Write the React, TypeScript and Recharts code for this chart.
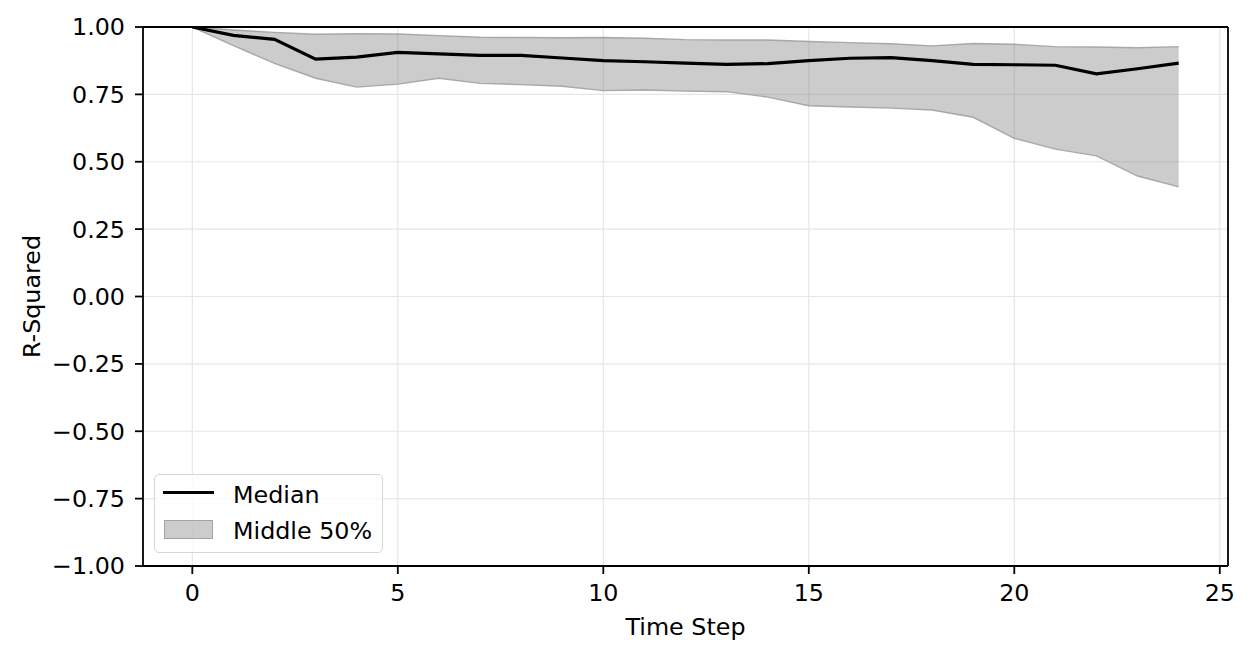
import React from "react";
import {
  ComposedChart,
  Area,
  Line,
  XAxis,
  YAxis,
  CartesianGrid,
  ReferenceLine,
  Label,
} from "recharts";

const timeSteps = [0, 1, 2, 3, 4, 5, 6, 7, 8, 9, 10, 11, 12, 13, 14, 15, 16, 17, 18, 19, 20, 21, 22, 23, 24];
const medianValues = [
  1.0, 0.969, 0.954, 0.881, 0.888, 0.906, 0.9, 0.895, 0.895, 0.885, 0.875, 0.871, 0.866,
  0.861, 0.864, 0.875, 0.884, 0.886, 0.875, 0.861, 0.86, 0.858, 0.826, 0.845, 0.866,
];
const upperValues = [
  1.0, 0.989, 0.98, 0.973, 0.975, 0.974, 0.968, 0.962, 0.961, 0.96, 0.961, 0.958, 0.953,
  0.952, 0.952, 0.946, 0.942, 0.938, 0.93, 0.939, 0.936, 0.927, 0.926, 0.923, 0.927,
];
const lowerValues = [
  1.0, 0.931, 0.865, 0.81, 0.777, 0.788, 0.81, 0.791, 0.786, 0.78, 0.764, 0.766, 0.762,
  0.76, 0.74, 0.708, 0.703, 0.699, 0.692, 0.665, 0.587, 0.547, 0.522, 0.447, 0.407,
];
const xTicks = [0, 5, 10, 15, 20, 25];
const yTicks = [-1, -0.75, -0.5, -0.25, 0, 0.25, 0.5, 0.75, 1];

const data = timeSteps.map((t, i) => ({
  t,
  median: medianValues[i],
  band: [lowerValues[i], upperValues[i]],
}));

const FONT = "'DejaVu Sans', sans-serif";
const FS = 23.8;

const fmtY = (v: number) => {
  const s = Math.abs(v).toFixed(2);
  return v < 0 ? "\u2212" + s : s;
};

export default function App() {
  return (
    <div style={{ position: "absolute", left: 0, top: 0, width: 1252, height: 658, background: "#fff" }}>
      <ComposedChart
        width={1252}
        height={658}
        data={data}
        margin={{ top: 27, right: 24, bottom: 32, left: 63 }}
      >
        <CartesianGrid stroke="#e6e6e6" strokeWidth={1.2} />
        <XAxis
          dataKey="t"
          type="number"
          domain={[-1.2, 25.2]}
          ticks={xTicks}
          allowDataOverflow
          height={60}
          axisLine={{ stroke: "#000", strokeWidth: 1.8 }}
          tickSize={8}
          tickMargin={10}
          tick={{ fill: "#000", fontSize: FS, fontFamily: FONT }}
          tickLine={{ stroke: "#000", strokeWidth: 1.8 }}
        >
          <Label value="Time Step" position="bottom" offset={-8} fill="#000" fontSize={FS} fontFamily={FONT} />
        </XAxis>
        <YAxis
          type="number"
          domain={[-1, 1]}
          ticks={yTicks}
          allowDataOverflow
          width={80}
          axisLine={{ stroke: "#000", strokeWidth: 1.8 }}
          tickSize={8}
          tickMargin={10}
          tickFormatter={fmtY}
          tick={{ fill: "#000", fontSize: FS, fontFamily: FONT }}
          tickLine={{ stroke: "#000", strokeWidth: 1.8 }}
        >
          <Label
            value="R-Squared"
            angle={-90}
            position="insideLeft"
            offset={-31}
            style={{ textAnchor: "middle" }}
            fill="#000"
            fontSize={FS}
            fontFamily={FONT}
          />
        </YAxis>
        <Area
          dataKey="band"
          type="linear"
          fill="#808080"
          fillOpacity={0.4}
          stroke="#999"
          strokeOpacity={0.8}
          strokeWidth={1.4}
          isAnimationActive={false}
          dot={false}
          activeDot={false}
        />
        <Line
          dataKey="median"
          type="linear"
          stroke="#000"
          strokeWidth={3.2}
          dot={false}
          activeDot={false}
          isAnimationActive={false}
        />
        <ReferenceLine y={1} stroke="#000" strokeWidth={1.8} />
        <ReferenceLine x={25.2} stroke="#000" strokeWidth={1.8} />
      </ComposedChart>
      <div
        style={{
          position: "absolute",
          left: 154,
          top: 474,
          width: 229,
          height: 79,
          border: "1.5px solid #d6d6d6",
          borderRadius: 5,
          background: "rgba(255,255,255,0.8)",
          fontFamily: FONT,
          fontSize: FS,
          color: "#000",
          boxSizing: "border-box",
        }}
      >
        <div style={{ position: "absolute", left: 7.5, top: 16, width: 51, height: 3.2, background: "#000" }} />
        <div style={{ position: "absolute", left: 78, top: 6, lineHeight: "28px", whiteSpace: "nowrap" }}>Median</div>
        <div
          style={{
            position: "absolute",
            left: 8.5,
            top: 45,
            width: 49,
            height: 19,
            background: "rgba(128,128,128,0.4)",
            border: "1.4px solid rgba(153,153,153,0.8)",
            boxSizing: "border-box",
          }}
        />
        <div style={{ position: "absolute", left: 78, top: 41.5, lineHeight: "28px", whiteSpace: "nowrap" }}>Middle 50%</div>
      </div>
    </div>
  );
}
